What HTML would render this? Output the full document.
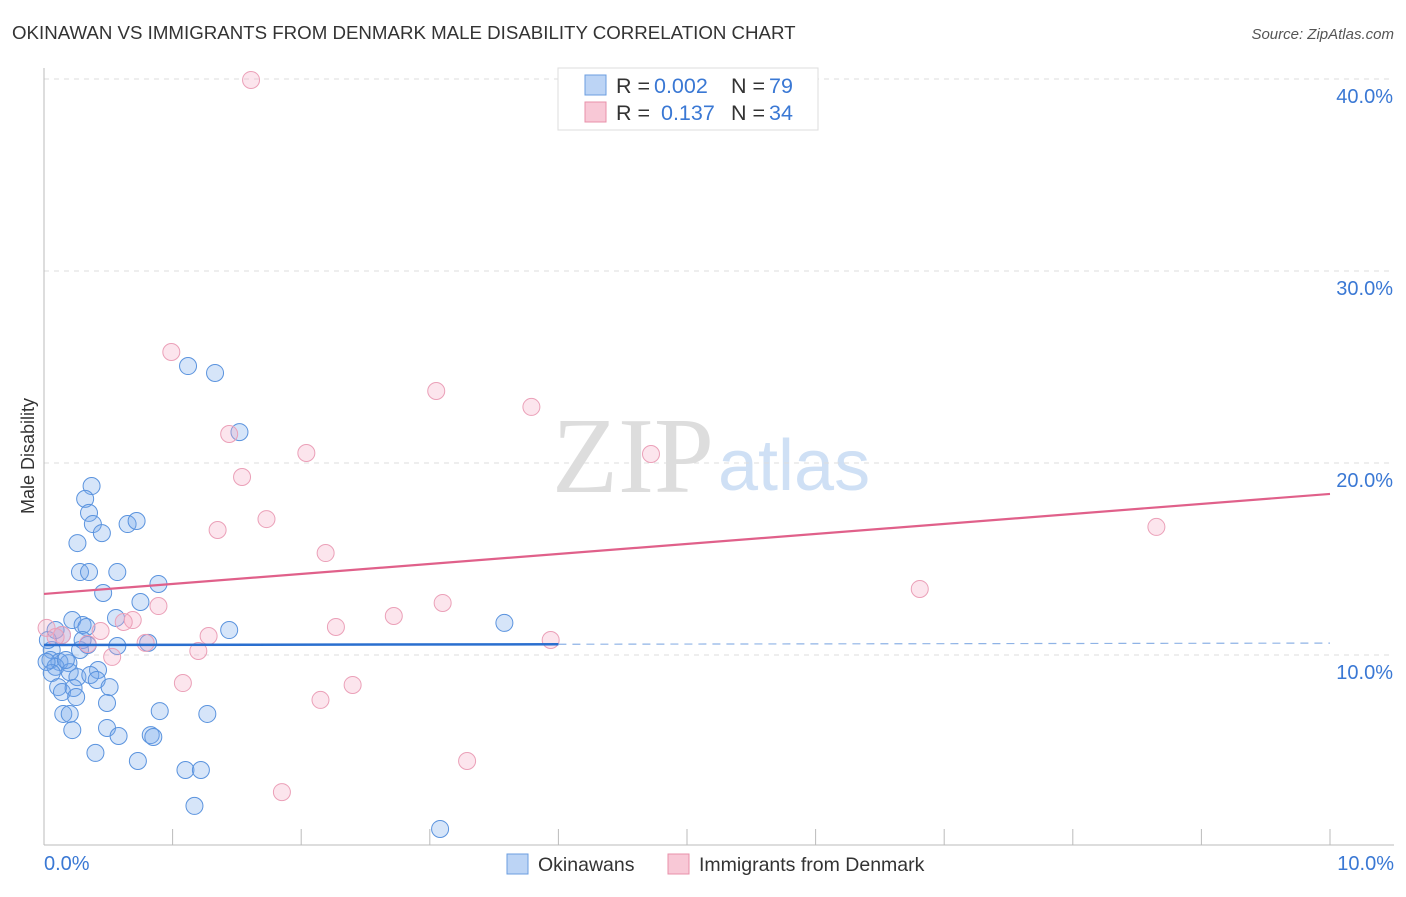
<!DOCTYPE html>
<html><head><meta charset="utf-8"><style>
body{margin:0;background:#fff;font-family:"Liberation Sans",sans-serif;}
</style></head><body>
<svg width="1406" height="892" viewBox="0 0 1406 892" xmlns="http://www.w3.org/2000/svg" font-family="Liberation Sans, sans-serif">
<text x="12" y="39" font-size="18.7" fill="#333">OKINAWAN VS IMMIGRANTS FROM DENMARK MALE DISABILITY CORRELATION CHART</text>
<text x="1394" y="39" font-size="15" fill="#555" font-style="italic" text-anchor="end">Source: ZipAtlas.com</text>
<text x="714" y="492" font-size="108" fill="#ddd" text-anchor="end" font-family="Liberation Serif, serif">ZIP</text>
<text x="718" y="490" font-size="72" fill="#cfe0f5">atlas</text>
<g id="grid"></g>
<line x1="44" y1="68" x2="44" y2="845" stroke="#bbb"/>
<line x1="44" y1="845" x2="1394" y2="845" stroke="#bbb"/>
<text transform="translate(34,456) rotate(-90)" font-size="18" fill="#333" text-anchor="middle">Male Disability</text>
<text x="44" y="870" font-size="20" fill="#3a78d4">0.0%</text>
<text x="1394" y="870" font-size="20" fill="#3a78d4" text-anchor="end">10.0%</text>
<g id="marks"></g>
<g>
<rect x="558" y="68" width="260" height="62" fill="#fff" stroke="#ddd"/>
<rect x="585" y="75" width="21" height="20" fill="#bcd4f5" stroke="#6b9ee0"/>
<rect x="585" y="102" width="21" height="20" fill="#f8c8d6" stroke="#e890aa"/>
<text x="616" y="93" font-size="21.5" fill="#333">R =</text>
<text x="654" y="93" font-size="21.5" fill="#3a78d4">0.002</text>
<text x="731" y="93" font-size="21.5" fill="#333">N =</text>
<text x="769" y="93" font-size="21.5" fill="#3a78d4">79</text>
<text x="616" y="120" font-size="21.5" fill="#333">R =</text>
<text x="661" y="120" font-size="21.5" fill="#3a78d4">0.137</text>
<text x="731" y="120" font-size="21.5" fill="#333">N =</text>
<text x="769" y="120" font-size="21.5" fill="#3a78d4">34</text>
</g>
<g>
<rect x="507" y="854" width="21" height="20" fill="#bcd4f5" stroke="#6b9ee0"/>
<text x="538" y="871" font-size="19.5" fill="#333">Okinawans</text>
<rect x="668" y="854" width="21" height="20" fill="#f8c8d6" stroke="#e890aa"/>
<text x="699" y="871" font-size="19.5" fill="#333">Immigrants from Denmark</text>
</g>
</svg>
<script>
const yTicks=[10,20,30,40];
const yTickLabels=["10.0%","20.0%","30.0%","40.0%"];
const xTickVals=[1,2,3,4,5,6,7,8,9,10];
const blueX=[1.12,1.33,1.52,0.37,0.32,0.35,0.38,0.45,0.65,0.72,0.26,0.28,0.35,0.57,0.89,0.46,0.75,0.56,1.44,3.58,0.22,0.30,0.33,0.14,0.81,0.57,0.28,0.06,0.34,0.05,0.12,0.19,0.42,0.09,0.06,0.20,0.26,0.36,0.41,0.51,0.11,0.14,0.23,0.25,0.49,0.90,1.27,0.15,0.20,0.22,0.49,0.58,0.83,0.85,0.40,0.73,1.10,1.22,1.17,3.08,0.03,0.09,0.02,0.17,0.30];
const blueY=[25.05,24.69,21.61,18.80,18.13,17.40,16.82,16.35,16.82,16.98,15.83,14.32,14.32,14.32,13.70,13.23,12.76,11.93,11.30,11.67,11.82,11.56,11.46,11.04,10.63,10.47,10.26,10.26,10.52,9.74,9.64,9.58,9.22,9.38,9.06,9.11,8.85,8.96,8.70,8.33,8.33,8.07,8.28,7.81,7.50,7.08,6.93,6.93,6.93,6.09,6.20,5.78,5.83,5.73,4.90,4.48,4.01,4.01,2.14,0.94,10.78,11.30,9.64,9.74,10.78];
const pinkX=[1.61,0.99,3.05,3.79,1.44,2.04,4.72,1.54,1.73,1.35,8.65,2.19,6.81,0.89,3.10,2.72,2.27,0.69,0.62,0.44,1.28,0.79,3.94,1.20,0.53,0.14,0.02,0.34,1.08,2.40,2.15,3.29,1.85,0.09];
const pinkY=[39.95,25.78,23.75,22.92,21.51,20.52,20.47,19.27,17.08,16.51,16.67,15.31,13.44,12.55,12.71,12.03,11.46,11.82,11.72,11.25,10.99,10.63,10.78,10.21,9.90,11.04,11.41,10.57,8.54,8.44,7.66,4.48,2.86,10.94];
const blueTrend=[10.52,10.62];
const pinkTrend=[13.18,18.39];
const sx=v=>44+v*128.6, sy=v=>847-v*19.2;
const NS="http://www.w3.org/2000/svg";
function mk(t,a,p){const e=document.createElementNS(NS,t);for(const k in a)e.setAttribute(k,a[k]);p.appendChild(e);return e;}
const grid=document.getElementById('grid'), marks=document.getElementById('marks');
yTicks.forEach((t,i)=>{
 const l=mk('line',{x1:44,x2:1394,y1:sy(t),y2:sy(t),stroke:'#ddd','stroke-dasharray':'5,5'},grid);
 
 
 const tx=mk('text',{x:1393,y:sy(t)+24,'font-size':20,fill:'#3a78d4','text-anchor':'end'},grid);
 tx.textContent=yTickLabels[i];
 
 
});
xTickVals.forEach(v=>{
 const l=mk('line',{x1:sx(v),x2:sx(v),y1:829,y2:845,stroke:'#bbb'},grid);
 
 
});
blueX.forEach((x,i)=>{
 const c=mk('circle',{cx:sx(x),cy:sy(blueY[i]),r:8.5,fill:'rgba(120,170,235,0.3)',stroke:'#5a93de','stroke-width':1},marks);
 
 
});
pinkX.forEach((x,i)=>{
 const c=mk('circle',{cx:sx(x),cy:sy(pinkY[i]),r:8.5,fill:'rgba(245,170,195,0.3)',stroke:'#eba0b8','stroke-width':1},marks);
 
 
});
const bMid=blueTrend[0]+(blueTrend[1]-blueTrend[0])*4/10;
let l=mk('line',{x1:sx(0),y1:sy(blueTrend[0]),x2:sx(4),y2:sy(bMid),stroke:'#2a6fcf','stroke-width':2.5},marks);


l=mk('line',{x1:sx(4),y1:sy(bMid),x2:sx(10),y2:sy(blueTrend[1]),stroke:'#8fb3e6','stroke-width':1.2,'stroke-dasharray':'8,6'},marks);


l=mk('line',{x1:sx(0),y1:sy(pinkTrend[0]),x2:sx(10),y2:sy(pinkTrend[1]),stroke:'#e0608a','stroke-width':2.2},marks);


</script>
</body></html>
